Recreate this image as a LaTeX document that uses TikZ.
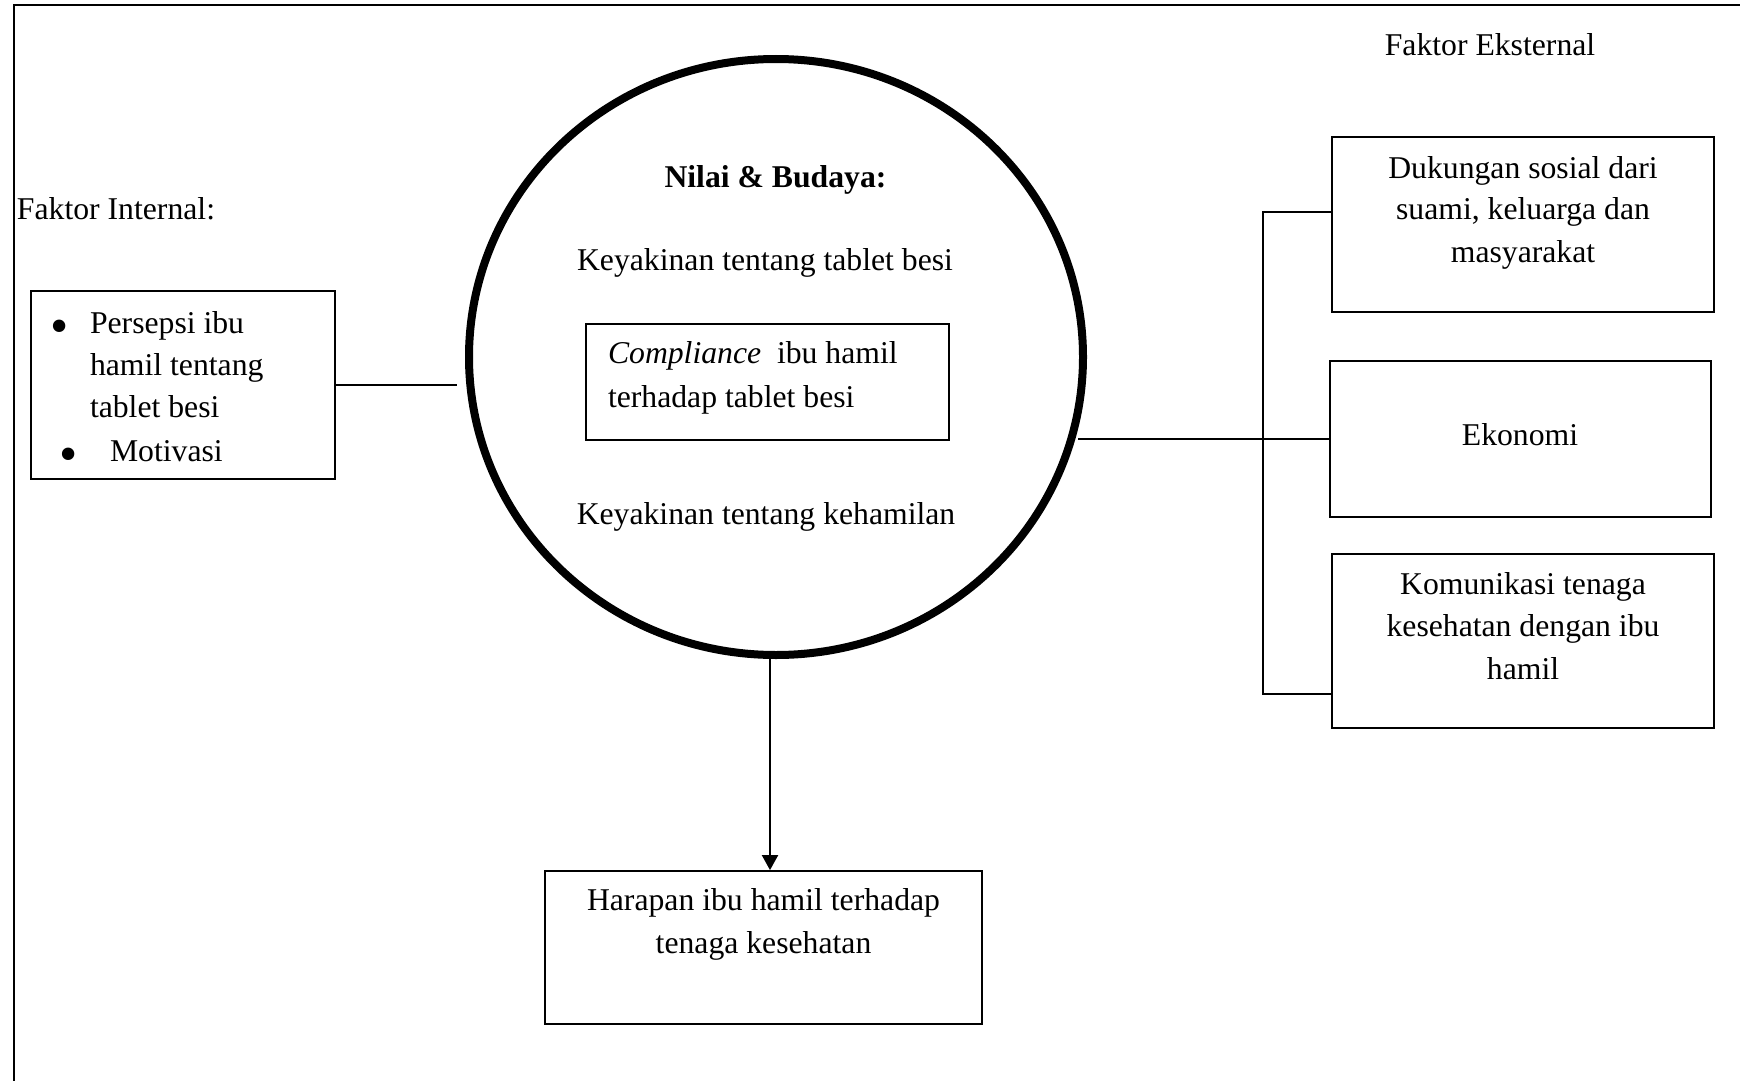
\documentclass[tikz,border=0pt]{standalone}
\usepackage{fontspec}
\setmainfont{Liberation Serif}
\usetikzlibrary{shapes.geometric,arrows.meta}
\newcommand\dfont{\fontsize{15.85}{19}\selectfont}
\newcommand\bulfont{\fontsize{26}{26}\selectfont}
\begin{document}
\begin{tikzpicture}[x=0.5pt,y=-0.5pt,
  txt/.style={inner sep=0pt, outer sep=0pt, anchor=base, font=\dfont},
  ltxt/.style={txt, anchor=base west},
  bul/.style={txt, font=\bulfont},
  rbox/.style={draw, line width=0.9pt, inner sep=0pt, rectangle},
  conn/.style={line width=0.8pt}]
\useasboundingbox (0,0) rectangle (1740,1081);
% outer frame (top and left only)
\draw[line width=1pt] (14,1081) -- (14,5) -- (1740,5);

% headings
\node[txt] (fe) at (1490,56) {Faktor Eksternal};
\node[ltxt] (fi) at (17,220) {Faktor Internal:};

% internal factors box
\node[rbox, minimum width=152pt, minimum height=94pt] (lbox) at (183,385) {};
\node[bul] (b1) at (59.5,343) {•};
\node[ltxt] (l1) at (90,333) {Persepsi ibu};
\node[ltxt] (l2) at (90,375) {hamil tentang};
\node[ltxt] (l3) at (90,417) {tablet besi};
\node[bul] (b2) at (69,471) {•};
\node[ltxt] (l4) at (110,461) {Motivasi};

% central circle
\node[ellipse, draw, line width=4pt, minimum width=307pt, minimum height=298pt, inner sep=0pt] (circ) at (776,357) {};
\node[txt, font=\dfont\bfseries] (nb) at (775.5,187) {Nilai \& Budaya:};
\node[txt] (k1) at (765,270) {Keyakinan tentang tablet besi};
\node[rbox, minimum width=181.5pt, minimum height=58pt] (comp) at (767.5,382) {};
\node[ltxt] (c1) at (608,363) {\textit{Compliance}~ ibu hamil};
\node[ltxt] (c2) at (608,407) {terhadap tablet besi};
\node[txt] (k2) at (766,524) {Keyakinan tentang kehamilan};

% expectation box
\node[rbox, minimum width=218.5pt, minimum height=76.5pt] (har) at (763.5,947.5) {};
\node[txt] (h1) at (763.5,910) {Harapan ibu hamil terhadap};
\node[txt] (h2) at (763.5,953) {tenaga kesehatan};

% external factor boxes
\node[rbox, minimum width=191pt, minimum height=87.5pt] (duk) at (1523,224.5) {};
\node[txt] (d1) at (1523,178) {Dukungan sosial dari};
\node[txt] (d2) at (1523,220) {suami, keluarga dan};
\node[txt] (d3) at (1523,262) {masyarakat};

\node[rbox, minimum width=190.5pt, minimum height=78pt] (eko) at (1520.5,439) {};
\node[txt] (e1) at (1520,445) {Ekonomi};

\node[rbox, minimum width=191pt, minimum height=87pt] (kom) at (1523,641) {};
\node[txt] (m1) at (1523,594) {Komunikasi tenaga};
\node[txt] (m2) at (1523,636) {kesehatan dengan ibu};
\node[txt] (m3) at (1523,679) {hamil};

% connectors
\draw[conn, shorten >=4pt] (lbox.east) -- (lbox.east -| circ.west);
\draw[conn, shorten <=-4.5pt] (eko.west -| circ.east) -- (eko.west);
\coordinate (j1) at (1263,212);
\coordinate (j2) at (1263,694);
\draw[conn] (duk.west |- j1) -- (j1) -- (j2) -- (kom.west |- j2);
\draw[line width=1pt, -{Triangle[length=7.5pt,width=8pt]}] ([xshift=-3pt]circ.south) -- ([xshift=-3pt]circ.south |- har.north);
\end{tikzpicture}
\end{document}
